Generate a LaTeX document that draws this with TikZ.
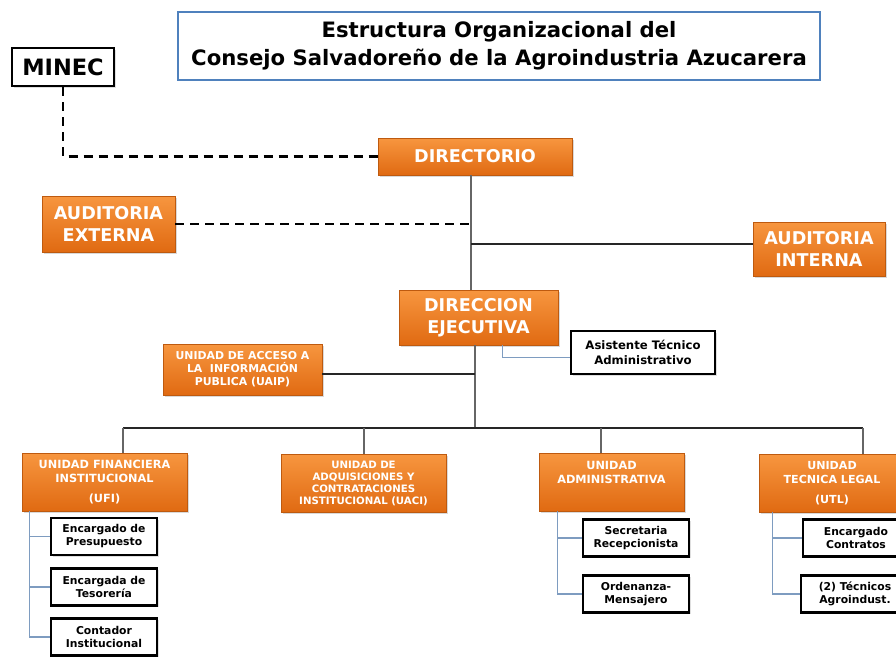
\documentclass[tikz,border=0pt]{standalone}
\usepackage{fontspec}
\setmainfont{DejaVu Sans}
\usetikzlibrary{shadows}

\definecolor{naranja}{HTML}{F7963F}
\definecolor{naranjaosc}{HTML}{E06A12}
\definecolor{bordetit}{HTML}{4F81BD}
\definecolor{ramalazul}{HTML}{7E9CC0}

\begin{document}
\begin{tikzpicture}[x=1pt, y={(0pt,-1pt)},
    unidad/.style={draw=naranjaosc!85!black, line width=0.6pt, top color=naranja, bottom color=naranjaosc,
      text=white, font=\bfseries, align=center, inner sep=0pt,
      drop shadow={shadow xshift=2pt, shadow yshift=-2pt, opacity=0.3}},
    cargo/.style={draw=black, line width=2.2pt, fill=white, align=center, inner sep=0pt,
      minimum width=106, minimum height=37, font=\bfseries\fontsize{10.8}{13}\selectfont,
      drop shadow={shadow xshift=1.5pt, shadow yshift=-1.5pt, opacity=0.25}},
    linea/.style={draw=black!85, line width=2pt},
    tronco/.style={draw=black!60, line width=2pt},
    punteada/.style={draw=black, line width=2.6pt, dash pattern=on 9pt off 6pt},
    ramal/.style={draw=ramalazul, line width=1.4pt}]
  \useasboundingbox (0,0) rectangle (896,656);

  % titulo
  \node[draw=bordetit, line width=1.8pt, fill=white, minimum width=642, minimum height=68, align=center,
    font=\bfseries\fontsize{21.2}{28}\selectfont] (titulo) at (499,46)
    {Estructura Organizacional del\\Consejo Salvadoreño de la Agroindustria Azucarera};

  \node[draw=black, line width=2.2pt, fill=white, minimum width=102, minimum height=38,
    font=\bfseries\fontsize{22.5}{26}\selectfont, drop shadow={shadow xshift=1.5pt, shadow yshift=-1.5pt, opacity=0.25}]
    (minec) at (63,67) {MINEC};

  % nivel superior
  \node[unidad, minimum width=194, minimum height=37, font=\bfseries\fontsize{17.6}{21}\selectfont] (directorio) at (475,156.5) {DIRECTORIO};
  \node[unidad, minimum width=133, minimum height=56, font=\bfseries\fontsize{17.6}{22}\selectfont] (audext) at (108.5,224) {AUDITORIA\\EXTERNA};
  \node[unidad, minimum width=132, minimum height=54, font=\bfseries\fontsize{17.6}{22}\selectfont] (audint) at (819,249) {AUDITORIA\\INTERNA};
  \node[unidad, minimum width=159, minimum height=55, font=\bfseries\fontsize{17.6}{22}\selectfont] (direccion) at (478.5,317.5) {DIRECCION\\EJECUTIVA};
  \node[cargo, minimum width=144, minimum height=43, font=\bfseries\fontsize{11.7}{14.5}\selectfont] (asistente) at (643,352.5) {Asistente Técnico\\Administrativo};
  \node[unidad, minimum width=159, minimum height=51, font=\bfseries\fontsize{10.9}{13}\selectfont] (uaip) at (242.5,369.5) {UNIDAD DE ACCESO A\\LA\ \ INFORMACIÓN\\PUBLICA (UAIP)};

  % unidades
  \node[unidad, minimum width=165, minimum height=58, font=\bfseries\fontsize{11.3}{14}\selectfont] (ufi) at (104.5,482) {UNIDAD FINANCIERA\\INSTITUCIONAL\\[6pt](UFI)};
  \node[unidad, minimum width=165, minimum height=58, font=\bfseries\fontsize{10.2}{12}\selectfont] (uaci) at (363.5,483) {UNIDAD DE\\ADQUISICIONES Y\\CONTRATACIONES\\INSTITUCIONAL (UACI)};
  \node[unidad, minimum width=145, minimum height=58, font=\bfseries\fontsize{11.3}{14}\selectfont] (admin) at (611.5,482) {UNIDAD\\ADMINISTRATIVA\\[6pt]~};
  \node[unidad, minimum width=146, minimum height=58, font=\bfseries\fontsize{11.1}{14}\selectfont] (utl) at (832,483) {UNIDAD\\TECNICA LEGAL\\[6pt](UTL)};

  % cargos
  \node[cargo] (presup) at (104,536.5) {Encargado de\\Presupuesto};
  \node[cargo] (tesor) at (104,587) {Encargada de\\Tesorería};
  \node[cargo] (contador) at (104,637) {Contador\\Institucional};
  \node[cargo] (secre) at (636,538) {Secretaria\\Recepcionista};
  \node[cargo] (ordenanza) at (636,594) {Ordenanza-\\Mensajero};
  \node[cargo] (contratos) at (856,538) {Encargado\\Contratos};
  \node[cargo, minimum width=108] (tecnicos) at (855,594) {(2) Técnicos\\Agroindust.};

  \coordinate (eje1) at (471,0);
  \coordinate (eje2) at (475,0);
  \coordinate (bus) at (0,428);

  % conectores
  \draw[punteada] (minec.south) |- (directorio.west);
  \draw[punteada] (audext.east) -- (audext.east -| eje1);
  \draw[tronco] (directorio.south -| eje1) -- (direccion.north -| eje1);
  \draw[linea] ([yshift=5pt]audint.west) -- ([yshift=5pt]audint.west -| eje1);
  \draw[ramal] ([xshift=24pt]direccion.south) |- ([yshift=-5pt]asistente.west);
  \draw[tronco] (direccion.south -| eje2) -- (eje2 |- bus);
  \draw[linea] ([yshift=-4pt]uaip.east) -- ([yshift=-4pt]uaip.east -| eje2);
  \draw[linea] ([xshift=18.5pt]ufi.north |- bus) -- ([xshift=31pt]utl.north |- bus);
  \foreach \u/\dx in {ufi/18.5, uaci/0, admin/-10.5, utl/31}
    \draw[tronco] ([xshift=\dx pt]\u.north) -- ([xshift=\dx pt]\u.north |- bus);

  \foreach \c in {presup, tesor, contador}
    \draw[ramal] ([xshift=8pt]ufi.south west) |- (\c.west);
  \foreach \c in {secre, ordenanza}
    \draw[ramal] ([xshift=19pt]admin.south west) |- (\c.west);
  \foreach \c in {contratos, tecnicos}
    \draw[ramal] ([xshift=14pt]utl.south west) |- (\c.west);
\end{tikzpicture}
\end{document}
